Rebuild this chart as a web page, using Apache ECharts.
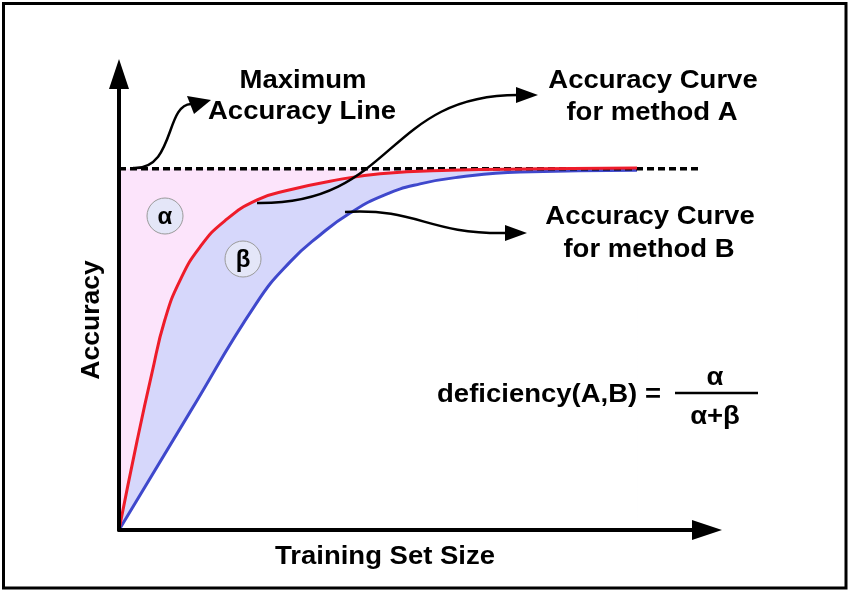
<!DOCTYPE html>
<html>
<head>
<meta charset="utf-8">
<script src="https://cdn.jsdelivr.net/npm/echarts@6/dist/echarts.min.js"></script>
<style>
  html, body { margin: 0; padding: 0; background: #fff; }
  #chart { width: 848px; height: 590px; }
</style>
</head>
<body>
<div id="chart"></div>
<script>
// training set size (0..100) and accuracy (0..100)
var redSize = [0, 3.1, 5.6, 7.8, 10.4, 13.8, 18.0, 23.5, 29.1, 35.9, 44.4, 56.3, 71.6, 88.1]
var redAcc = [0, 19.7, 34.4, 46.1, 54.8, 62.1, 67.8, 72.4, 74.6, 76.5, 78.1, 78.9, 79.2, 79.4]
var blueSize = [0, 12.1, 23.3, 29.1, 34.2, 39.3, 45.2, 51.2, 58.0, 68.2, 88.1]
var blueAcc = [0, 25.9, 49.6, 58.8, 64.7, 69.5, 73.5, 75.9, 77.4, 78.5, 78.9]
var maxAccuracy = 79.2
var maxLineEnd = 99.1
var curveEnd = 88.1

var FONT = '"Liberation Sans", Arial, Helvetica, sans-serif'

function pairs(xs, ys) {
  return xs.map(function (x, i) { return [x, ys[i]] })
}

// bold label drawn a little wider, like the original figure
function label(text, x, y, size, extra) {
  var el = {
    type: 'text',
    x: x,
    y: y,
    z: 100,
    scaleX: 1.1,
    style: {
      text: text,
      font: 'bold ' + size + 'px ' + FONT,
      fill: '#000',
      align: 'center',
      verticalAlign: 'middle',
      textAlign: 'center',
      textVerticalAlign: 'middle'
    }
  }
  return Object.assign(el, extra || {})
}

function curvedArrow(p0, p1, p2, p3, head) {
  return [
    {
      type: 'bezierCurve',
      z: 100,
      shape: { x1: p0[0], y1: p0[1], cpx1: p1[0], cpy1: p1[1], cpx2: p2[0], cpy2: p2[1], x2: p3[0], y2: p3[1] },
      style: { stroke: '#000', lineWidth: 2.5, fill: null }
    },
    {
      type: 'polygon',
      z: 100,
      shape: { points: head },
      style: { fill: '#000' }
    }
  ]
}

function greekBadge(ch, x, y) {
  return [
    {
      type: 'circle',
      z: 100,
      shape: { cx: x, cy: y, r: 18 },
      style: { fill: '#e4e6f8', stroke: '#9a9a9a', lineWidth: 1 }
    },
    label(ch, x, y + 1, 24, { scaleX: 1 })
  ]
}

var chart = echarts.init(document.getElementById('chart'))

var graphics = [
  {
    type: 'rect',
    z: 100,
    shape: { x: 3.5, y: 3.5, width: 842.5, height: 584.5 },
    style: { fill: null, stroke: '#000', lineWidth: 3 }
  },
  label('Maximum', 303, 81, 25),
  label('Accuracy Line', 302, 112, 25),
  label('Accuracy Curve', 653, 81, 25),
  label('for method A', 652, 113, 25),
  label('Accuracy Curve', 650, 217, 25),
  label('for method B', 649, 250, 25),
  label('Training Set Size', 385, 557, 25),
  label('Accuracy', 92, 320, 26.5, { rotation: Math.PI / 2, scaleX: 1 }),
  label('deficiency(A,B) =', 549, 395, 25),
  label('\u03b1', 715, 378, 25),
  label('\u03b1+\u03b2', 715, 417, 25),
  {
    type: 'line',
    z: 100,
    shape: { x1: 675, y1: 393, x2: 758, y2: 393 },
    style: { stroke: '#000', lineWidth: 2.5 }
  }
]
  .concat(curvedArrow([133, 168], [175, 170], [165, 105], [191, 104], [[211, 100], [187, 96], [194, 114]]))
  .concat(curvedArrow([257, 203], [395, 205], [385, 95], [518, 95], [[538, 95], [516, 87], [516, 103]]))
  .concat(curvedArrow([345, 212], [420, 208], [425, 234], [506, 233], [[527, 233], [505, 225], [505, 241]]))
  .concat(greekBadge('\u03b1', 165, 216))
  .concat(greekBadge('\u03b2', 243, 259))

chart.setOption({
  animation: false,
  backgroundColor: '#fff',
  grid: { left: 119, top: 74, width: 588, height: 456 },
  xAxis: {
    type: 'value',
    min: 0,
    max: 100,
    z: 10,
    axisLine: {
      symbol: ['none', 'triangle'],
      symbolSize: [20, 30],
      lineStyle: { color: '#000', width: 4 }
    },
    axisTick: { show: false },
    axisLabel: { show: false },
    splitLine: { show: false }
  },
  yAxis: {
    type: 'value',
    min: 0,
    max: 100,
    z: 10,
    axisLine: {
      show: true,
      symbol: ['none', 'triangle'],
      symbolSize: [20, 30],
      lineStyle: { color: '#000', width: 4 }
    },
    axisTick: { show: false },
    axisLabel: { show: false },
    splitLine: { show: false }
  },
  series: [
    {
      // alpha region: between max accuracy and curve A
      type: 'line',
      z: 1,
      data: [[0, maxAccuracy], [curveEnd, maxAccuracy]],
      showSymbol: false,
      lineStyle: { width: 0 },
      areaStyle: { color: '#fce4fb', opacity: 1 }
    },
    {
      // beta region: under curve A
      type: 'line',
      z: 2,
      data: pairs(redSize, redAcc),
      smooth: 0.5,
      showSymbol: false,
      lineStyle: { width: 0 },
      areaStyle: { color: '#d6d7fb', opacity: 1 }
    },
    {
      name: 'method B',
      type: 'line',
      z: 3,
      data: pairs(blueSize, blueAcc),
      smooth: 0.5,
      showSymbol: false,
      lineStyle: { color: '#3f48cc', width: 3 },
      areaStyle: { color: '#fff', opacity: 1 }
    },
    {
      name: 'max accuracy',
      type: 'line',
      z: 4,
      data: [[0, maxAccuracy], [maxLineEnd, maxAccuracy]],
      showSymbol: false,
      lineStyle: { color: '#000', width: 3.5, type: [7, 4] }
    },
    {
      name: 'method A',
      type: 'line',
      z: 5,
      data: pairs(redSize, redAcc),
      smooth: 0.5,
      showSymbol: false,
      lineStyle: { color: '#ee1c2a', width: 3 }
    }
  ],
  graphic: graphics
})
</script>
</body>
</html>
